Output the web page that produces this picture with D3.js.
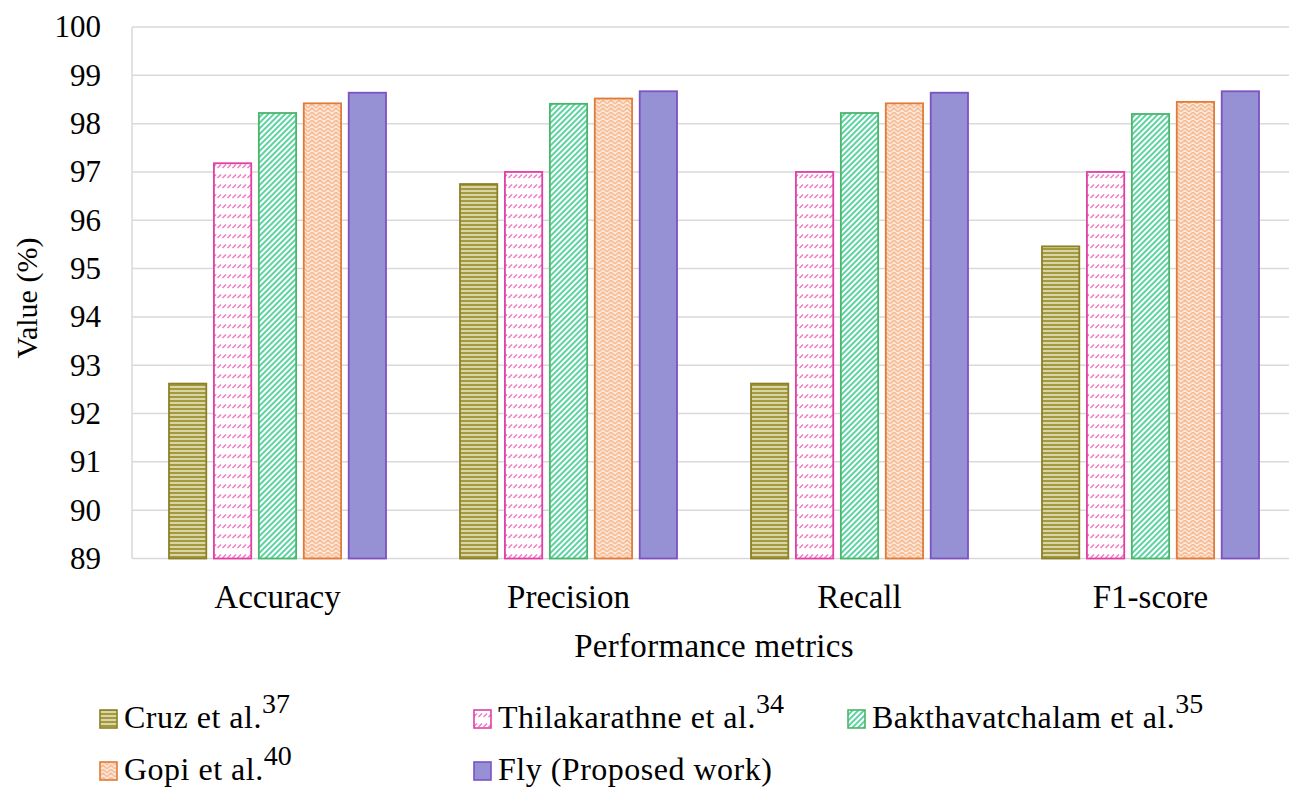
<!DOCTYPE html>
<html>
<head>
<meta charset="utf-8">
<script src="https://cdn.jsdelivr.net/npm/d3@7"></script>
<style>
  html, body { margin: 0; padding: 0; background: #fff; }
</style>
</head>
<body>
<svg id="chart" width="1289" height="788"></svg>
<script>
// ---- Data ----
const categories = ["Accuracy", "Precision", "Recall", "F1-score"];
const seriesNames = ["Cruz et al.", "Thilakarathne et al.", "Bakthavatchalam et al.", "Gopi et al.", "Fly (Proposed work)"];
const seriesRefs = ["37", "34", "35", "40", ""];
const cruz = [92.62, 96.75, 92.62, 95.46];
const thilakarathne = [97.18, 97.0, 97.0, 97.0];
const bakthavatchalam = [98.22, 98.41, 98.22, 98.2];
const gopi = [98.42, 98.52, 98.42, 98.45];
const fly = [98.64, 98.67, 98.64, 98.67];
const yTicks = [89, 90, 91, 92, 93, 94, 95, 96, 97, 98, 99, 100];

const seriesValues = [cruz, thilakarathne, bakthavatchalam, gopi, fly];

// ---- Styles ----
const FONT = "Liberation Serif";
const strokes = ["#8c8126", "#e03fa6", "#4cb56c", "#e07b3a", "#7d52c2"];
const fills = ["url(#pCruz)", "url(#pThila)", "url(#pBakh)", "url(#pGopi)", "#9591d4"];

const svg = d3.select("#chart").attr("font-family", FONT);
const defs = svg.append("defs");

// Cruz: horizontal stripes
let p = defs.append("pattern").attr("id", "pCruz").attr("patternUnits", "userSpaceOnUse")
  .attr("width", 4).attr("height", 4);
p.append("rect").attr("width", 4).attr("height", 4).attr("fill", "#d9d5a8");
p.append("rect").attr("y", 0).attr("width", 4).attr("height", 2).attr("fill", "#a39a3e");

// Thilakarathne: small diagonal dashes
p = defs.append("pattern").attr("id", "pThila").attr("patternUnits", "userSpaceOnUse")
  .attr("width", 5).attr("height", 10);
p.append("rect").attr("width", 5).attr("height", 10).attr("fill", "#fff");
p.append("line").attr("x1", 0.5).attr("y1", 8).attr("x2", 4).attr("y2", 4.5)
  .attr("stroke", "#ef78c0").attr("stroke-width", 1.4);

// Bakthavatchalam: diagonal stripes
p = defs.append("pattern").attr("id", "pBakh").attr("patternUnits", "userSpaceOnUse")
  .attr("width", 4).attr("height", 4).attr("patternTransform", "rotate(45)");
p.append("rect").attr("width", 4).attr("height", 4).attr("fill", "#fff");
p.append("rect").attr("width", 2).attr("height", 4).attr("fill", "#5ed3a2");

// Gopi: weave
p = defs.append("pattern").attr("id", "pGopi").attr("patternUnits", "userSpaceOnUse")
  .attr("width", 8).attr("height", 8);
p.append("rect").attr("width", 8).attr("height", 8).attr("fill", "#fde9dc");
p.append("path").attr("d", "M0,4 L4,0 L8,4 M0,8 L4,4 L8,8")
  .attr("fill", "none").attr("stroke", "#f6bf98").attr("stroke-width", 1.6);

// ---- Scales ----
const x0 = d3.scaleBand().domain(categories).range([132, 1296]).padding(0);
const x1 = d3.scaleBand().domain(d3.range(seriesNames.length))
  .range([37, x0.bandwidth() - 37]).paddingInner(0.17).paddingOuter(0);
const y = d3.scaleLinear().domain([89, 100]).range([558.5, 27]);

// ---- Grid ----
svg.append("g").selectAll("line").data(yTicks).join("line")
  .attr("x1", 132).attr("x2", 1289)
  .attr("y1", d => y(d)).attr("y2", d => y(d))
  .attr("stroke", "#d9d9d9").attr("stroke-width", 1.5);
svg.append("line").attr("x1", 132).attr("x2", 132).attr("y1", y(100)).attr("y2", y(89))
  .attr("stroke", "#d9d9d9").attr("stroke-width", 1.5);

// ---- Y axis ----
const yAxis = d3.axisLeft(y).tickValues(yTicks).tickSize(0).tickPadding(0).tickFormat(d3.format("d"));
const yg = svg.append("g").attr("transform", "translate(101,0)").call(yAxis)
  .attr("font-family", FONT);
yg.select(".domain").remove();
yg.selectAll("text").attr("font-family", FONT).attr("font-size", 31).attr("fill", "#000");

// ---- X axis ----
const xAxis = d3.axisBottom(x0).tickSize(0).tickPadding(0);
const xg = svg.append("g").attr("transform", "translate(0,585)").call(xAxis)
  .attr("font-family", FONT);
xg.select(".domain").remove();
xg.selectAll("text").attr("font-family", FONT).attr("font-size", 33).attr("fill", "#000");

// ---- Bars ----
const groups = svg.append("g").selectAll("g").data(categories).join("g")
  .attr("transform", d => `translate(${x0(d)},0)`);
groups.selectAll("rect")
  .data((c, ci) => seriesValues.map((vals, si) => ({ si, v: vals[ci] })))
  .join("rect")
  .attr("x", d => x1(d.si))
  .attr("width", x1.bandwidth())
  .attr("y", d => y(d.v))
  .attr("height", d => y(89) - y(d.v))
  .attr("fill", d => fills[d.si])
  .attr("stroke", d => strokes[d.si])
  .attr("stroke-width", 1.8);

// ---- Axis titles ----
svg.append("text").attr("x", 714).attr("y", 657).attr("text-anchor", "middle")
  .attr("font-family", FONT).attr("font-size", 33).attr("letter-spacing", 0.3).text("Performance metrics");
svg.append("text").attr("transform", "translate(37,298) rotate(-90)").attr("text-anchor", "middle")
  .attr("font-family", FONT).attr("font-size", 30).text("Value (%)");

// ---- Legend ----
const legendPos = [[99, 709], [473, 709], [847, 709], [99, 761], [473, 761]];
const lg = svg.append("g").selectAll("g").data(seriesNames).join("g")
  .attr("transform", (d, i) => `translate(${legendPos[i][0]},${legendPos[i][1]})`);
lg.append("rect").attr("x", 1).attr("y", 1).attr("width", 17).attr("height", 18)
  .attr("fill", (d, i) => fills[i]).attr("stroke", (d, i) => strokes[i]).attr("stroke-width", 1.6);
const lt = lg.append("text").attr("x", 25).attr("y", 19).attr("font-family", FONT).attr("font-size", 32);
lt.append("tspan").attr("letter-spacing", 0.5).text(d => d);
lt.append("tspan").attr("dy", -15).attr("font-size", 28).text((d, i) => seriesRefs[i]);
</script>
</body>
</html>
